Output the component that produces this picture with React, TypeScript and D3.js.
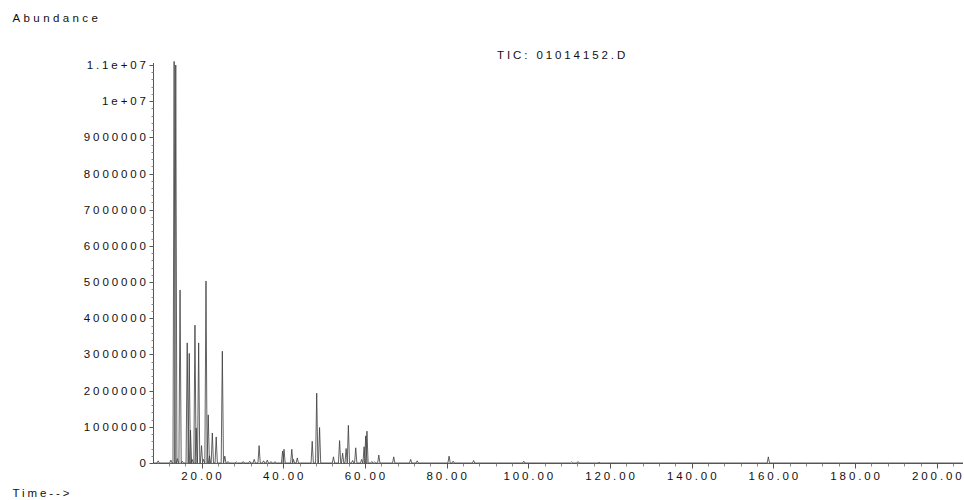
import React from "react";
import * as d3 from "d3";

// retention times (min) and apex abundances
const peakTimes = [
  9.4, 12.5, 13.3, 13.7, 14.1, 14.75, 15.3, 16.5, 17.0, 17.3, 17.7, 18.4, 18.7,
  19.3, 20.0, 20.5, 21.1, 21.65, 21.95, 22.65, 23.6, 25.1, 25.7, 26.5, 28.5,
  30.2, 31.8, 32.9, 34.1, 35.2, 36.1, 37.0, 38.0, 39.85, 40.2, 42.1, 42.5,
  43.45, 47.1, 48.2, 48.9, 52.3, 53.8, 54.55, 55.4, 55.95, 57.0, 57.75, 59.2,
  59.8, 60.2, 60.5, 61.7, 62.4, 63.4, 67.05, 71.2, 72.8, 80.6, 81.6, 86.6,
  98.9, 110.6, 112.2, 117.3, 158.75,
];
const peakHeights = [
  60000, 80000, 11100000, 11000000, 120000, 4780000, 50000, 3320000, 3030000,
  910000, 100000, 3810000, 970000, 3320000, 480000, 100000, 5030000, 1330000,
  200000, 830000, 720000, 3090000, 190000, 40000, 30000, 40000, 50000, 100000,
  480000, 60000, 80000, 40000, 40000, 330000, 380000, 380000, 100000, 140000,
  600000, 1930000, 980000, 170000, 620000, 270000, 400000, 1040000, 70000,
  420000, 100000, 450000, 750000, 880000, 40000, 30000, 220000, 170000, 100000,
  60000, 190000, 50000, 70000, 50000, 30000, 40000, 20000, 170000,
];

const yMajor = d3.range(0, 11000001, 1000000);
const yMinor = d3.range(0, 11000001, 200000);
const xMajor = d3.range(20, 201, 20);
const xMinor = d3.range(12, 205, 4);

const W = 964;
const H = 500;
const FONT = "'Liberation Sans', Arial, sans-serif";
const LS = 2.9;

function fmtY(v: number) {
  if (v >= 1e7) {
    const m = v / 1e7;
    return `${m === 1 ? "1" : m.toFixed(1)}e+07`;
  }
  return String(v);
}

export default function App() {
  const x = d3.scaleLinear().domain([8.25, 206.4]).range([153.5, 963]);
  const y = d3.scaleLinear().domain([0, 11000000]).range([463, 65]);
  const hw = 0.28; // peak half width, min

  const pts: [number, number][] = [[8.25, 0]];
  peakTimes.forEach((t, i) => {
    pts.push([t - hw, 0], [t, peakHeights[i]], [t + hw, 0]);
  });
  pts.push([206.4, 0]);

  const line = d3
    .line<[number, number]>()
    .x((d) => x(d[0]))
    .y((d) => y(d[1]));

  const textStyle = {
    fontFamily: FONT,
    fontSize: 11.5,
    letterSpacing: LS,
    fill: "#111",
  } as React.CSSProperties;

  return (
    <svg
      width={W}
      height={H}
      style={{ position: "absolute", left: 0, top: 0, background: "#fff" }}
    >
      <text x={12.5} y={22} style={{ ...textStyle, letterSpacing: 3.4 }}>
        Abundance
      </text>
      <text x={12.5} y={497} style={textStyle}>
        Time--&gt;
      </text>
      <text x={497} y={59} style={textStyle}>
        TIC: 01014152.D
      </text>

      {/* y axis */}
      <line x1={153.5} x2={153.5} y1={463} y2={63} stroke="#555" />
      {yMinor.map((v) => (
        <line
          key={"ym" + v}
          x1={151.5}
          x2={153.5}
          y1={Math.round(y(v)) + 0.5}
          y2={Math.round(y(v)) + 0.5}
          stroke="#888"
        />
      ))}
      {yMajor.map((v) => (
        <g key={"y" + v}>
          <line
            x1={149.5}
            x2={153.5}
            y1={Math.round(y(v)) + 0.5}
            y2={Math.round(y(v)) + 0.5}
            stroke="#555"
          />
          <text
            x={146 + LS}
            y={y(v) + 4}
            textAnchor="end"
            style={textStyle}
          >
            {fmtY(v)}
          </text>
        </g>
      ))}

      {/* x axis */}
      <line x1={153.5} x2={963} y1={463.5} y2={463.5} stroke="#666" />
      {xMinor
        .filter((t) => t % 20 !== 0)
        .map((t) => (
          <line
            key={"xm" + t}
            x1={Math.round(x(t)) + 0.5}
            x2={Math.round(x(t)) + 0.5}
            y1={463.5}
            y2={466.5}
            stroke="#888"
          />
        ))}
      {xMajor.map((t) => (
        <g key={"x" + t}>
          <line
            x1={Math.round(x(t)) + 0.5}
            x2={Math.round(x(t)) + 0.5}
            y1={463.5}
            y2={468.5}
            stroke="#555"
          />
          <text
            x={x(t) + LS / 2}
            y={480}
            textAnchor="middle"
            style={textStyle}
          >
            {t.toFixed(2)}
          </text>
        </g>
      ))}

      {/* TIC trace */}
      <path
        d={line(pts) ?? ""}
        fill="none"
        stroke="#3a3a3a"
        strokeWidth={0.8}
        strokeLinejoin="round"
      />
    </svg>
  );
}
